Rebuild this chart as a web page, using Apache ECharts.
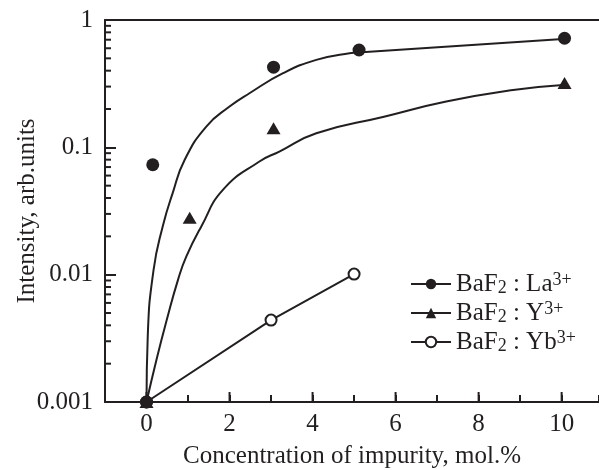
<!DOCTYPE html>
<html>
<head>
<meta charset="utf-8">
<script src="https://cdn.jsdelivr.net/npm/echarts@6/dist/echarts.min.js"></script>
<style>
  html, body { margin: 0; padding: 0; background: #fff; }
  #main { width: 599px; height: 470px; }
</style>
</head>
<body>
<div id="main"></div>
<script>
// measured points, [concentration mol.%, intensity]
var laPoints = [[0, 0.001], [0.15, 0.073], [3.06, 0.426], [5.12, 0.581], [10.07, 0.719]];
var yPoints = [[0, 0.001], [1.04, 0.028], [3.06, 0.1415], [10.07, 0.32]];
var ybPoints = [[0, 0.001], [3, 0.0044], [5, 0.0101]];

// fitted curves
var laCurve = [[0, 0.001], [0.03, 0.0033], [0.17, 0.0109], [0.39, 0.0239], [0.63, 0.0437],
  [0.92, 0.0798], [1.44, 0.1456], [2.0, 0.209], [2.48, 0.266], [3.29, 0.382],
  [4.09, 0.486], [4.89, 0.548], [5.37, 0.564], [10.03, 0.71]];
var yCurve = [[0, 0.001], [0.24, 0.00215], [0.49, 0.00444], [0.76, 0.00914], [0.96, 0.0139],
  [1.32, 0.0239], [1.84, 0.0464], [2.72, 0.0774], [3.2, 0.0927], [4.09, 0.129],
  [5.72, 0.174], [7.22, 0.229], [8.83, 0.282], [10.03, 0.309]];

var xLabels = [0, 2, 4, 6, 8, 10];
var yLabels = [0.001, 0.01, 0.1, 1];
var legendNames = ['La', 'Y', 'Yb'];

var ink = '#231f20';
var font = 'Liberation Serif';

// extra tick marks: [x, y, dx, dy], anchor in data units, length in pixels (inward)
var tickMarks = [];
[0.001, 0.01, 0.1].forEach(function (d) {
  for (var m = 2; m <= 9; m++) tickMarks.push([-1, +(m * d).toPrecision(3), 6, 0]);
});
for (var t = 0; t <= 10; t += 2) tickMarks.push([t, 0.001, 0, -10]);

var myChart = echarts.init(document.getElementById('main'));

myChart.setOption({
  animation: false,
  textStyle: { fontFamily: font, color: ink },
  grid: { left: 105, right: 0, top: 20, bottom: 68, outerBoundsMode: 'none' },
  legend: {
    data: legendNames,
    orient: 'vertical',
    left: 405,
    top: 266,
    itemWidth: 40,
    itemHeight: 13,
    itemGap: 3,
    selectedMode: false,
    formatter: function (name) {
      return '{m|BaF}{s|2}{m| : ' + name + '}{u|3+}';
    },
    textStyle: {
      color: ink,
      rich: {
        m: { fontFamily: font, fontSize: 25, lineHeight: 26, color: ink },
        s: { fontFamily: font, fontSize: 18, lineHeight: 8, verticalAlign: 'bottom', color: ink },
        u: { fontFamily: font, fontSize: 18, lineHeight: 13, verticalAlign: 'top', color: ink }
      }
    }
  },
  xAxis: [{
    type: 'value',
    min: -1,
    max: 10.9,
    interval: 1,
    name: 'Concentration of impurity, mol.%',
    nameLocation: 'middle',
    nameGap: 42,
    nameMoveOverlap: false,
    nameTextStyle: { fontFamily: font, fontSize: 25, color: ink },
    axisLine: { onZero: false, lineStyle: { color: ink, width: 2 } },
    axisTick: { show: true, inside: true, length: 7, lineStyle: { color: ink, width: 2 } },
    axisLabel: {
      fontFamily: font, fontSize: 25, color: ink, margin: 10,
      formatter: function (v) { return xLabels.indexOf(v) >= 0 ? String(v) : ''; }
    },
    splitLine: { show: false }
  }, {
    type: 'value',
    position: 'top',
    min: -1,
    max: 10.9,
    axisLine: { onZero: false, lineStyle: { color: ink, width: 2 } },
    axisTick: { show: false },
    axisLabel: { show: false },
    splitLine: { show: false }
  }],
  yAxis: {
    type: 'log',
    logBase: 10,
    min: 0.001,
    max: 1,
    name: 'Intensity, arb.units',
    nameLocation: 'middle',
    nameGap: 65,
    nameMoveOverlap: false,
    nameTextStyle: { fontFamily: font, fontSize: 25, color: ink },
    axisLine: { onZero: false, lineStyle: { color: ink, width: 2 } },
    axisTick: { show: true, inside: true, length: 11, lineStyle: { color: ink, width: 2 } },
    axisLabel: {
      fontFamily: font, fontSize: 25, color: ink, margin: 12,
      formatter: function (v) {
        for (var i = 0; i < yLabels.length; i++) {
          if (Math.abs(v - yLabels[i]) < yLabels[i] * 1e-6) return String(yLabels[i]);
        }
        return '';
      }
    },
    splitLine: { show: false }
  },
  series: [
    {
      name: 'La', type: 'line', data: laCurve, smooth: 0.5,
      symbol: 'circle', showSymbol: false, clip: false,
      lineStyle: { color: ink, width: 2 }, itemStyle: { color: ink }, z: 2
    },
    {
      name: 'Y', type: 'line', data: yCurve, smooth: 0.5,
      symbol: 'triangle', showSymbol: false, clip: false,
      lineStyle: { color: ink, width: 2 }, itemStyle: { color: ink }, z: 2
    },
    {
      name: 'Yb', type: 'line', data: ybPoints,
      symbol: 'emptyCircle', symbolSize: 11, showSymbol: true, clip: false,
      lineStyle: { color: ink, width: 2 },
      itemStyle: { color: ink, borderWidth: 1.5 }, z: 3
    },
    {
      name: 'La pts', type: 'scatter', data: laPoints, symbol: 'circle', symbolSize: 13,
      clip: false, itemStyle: { color: ink, opacity: 1 }, z: 4
    },
    {
      name: 'Y pts', type: 'scatter', data: yPoints, symbol: 'triangle', symbolSize: [14, 12],
      clip: false, itemStyle: { color: ink, opacity: 1 }, z: 4
    }
  ]
});

// minor log ticks and long even ticks, placed through the chart's own axis scales
var tickGraphics = tickMarks.map(function (tk) {
  var p = myChart.convertToPixel({ xAxisIndex: 0, yAxisIndex: 0 }, [tk[0], tk[1]]);
  return {
    type: 'line', silent: true, z: 100,
    shape: { x1: p[0], y1: p[1], x2: p[0] + tk[2], y2: p[1] + tk[3] },
    style: { stroke: ink, lineWidth: 2 }
  };
});
myChart.setOption({ graphic: tickGraphics });
</script>
</body>
</html>
